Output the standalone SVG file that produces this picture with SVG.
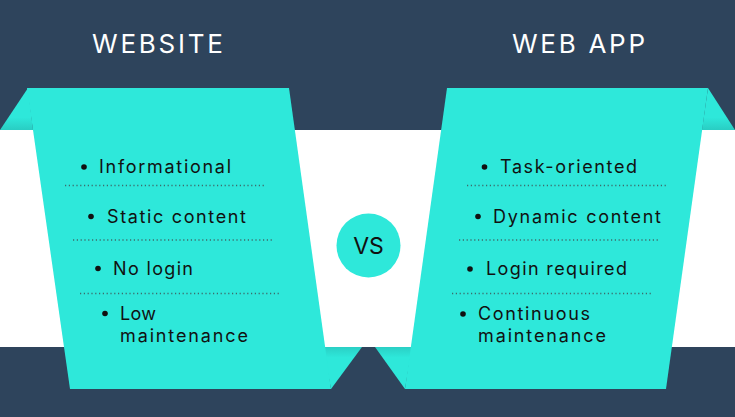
<svg xmlns="http://www.w3.org/2000/svg" width="735" height="417" viewBox="0 0 735 417">
<style>
.bg{fill:#2e445c}
.panel{fill:#2ee8da}
.head{font-family:Inter,"Liberation Sans",sans-serif;font-size:26px;fill:#ffffff;font-weight:400}
.item{font-family:Inter,"Liberation Sans",sans-serif;font-size:18px;fill:#111111}
.dot{fill:#111111}
.rule{stroke:#3d6b6b;stroke-width:1.6;stroke-dasharray:1.2 2.6;fill:none}
.vs{font-family:Inter,"Liberation Sans",sans-serif;font-size:23px;fill:#111111;text-anchor:middle}
</style>
<defs>
<linearGradient id="foldTop" x1="0" y1="0" x2="0" y2="1">
<stop offset="0" stop-color="#2ee8da"/>
<stop offset="0.7" stop-color="#2ee8da"/>
<stop offset="1" stop-color="#29cdc3"/>
</linearGradient>
<linearGradient id="foldBot" x1="0" y1="0" x2="0" y2="1">
<stop offset="0" stop-color="#2acfc5"/>
<stop offset="0.25" stop-color="#2ee8da"/>
<stop offset="1" stop-color="#2ee8da"/>
</linearGradient>
</defs>
<g id="background">
<rect class="bg" x="0" y="0" width="735" height="417"/>
<rect x="0" y="130" width="735" height="217" fill="#ffffff"/>
</g>
<g id="connectors"/>
<g id="website-panel">
<polygon fill="url(#foldTop)" points="0,130 28,88 33,130"/>
<polygon fill="url(#foldBot)" points="323,347 362,347 331,389"/>
<polygon class="panel" points="27,88 289,88 331,389 70,389"/>
<text class="head" x="92" y="53" textLength="131" lengthAdjust="spacing">WEBSITE</text>
<circle class="dot" cx="84" cy="167" r="2.8"/>
<text class="item" x="99" y="173" textLength="132" lengthAdjust="spacing">Informational</text>
<line class="rule" x1="65" y1="185.5" x2="266" y2="185.5"/>
<circle class="dot" cx="91" cy="216.5" r="2.8"/>
<text class="item" x="107" y="222.5" textLength="139" lengthAdjust="spacing">Static content</text>
<line class="rule" x1="73" y1="240" x2="273" y2="240"/>
<circle class="dot" cx="98" cy="268.5" r="2.8"/>
<text class="item" x="113" y="275" textLength="80" lengthAdjust="spacing">No login</text>
<line class="rule" x1="80" y1="293.5" x2="280" y2="293.5"/>
<circle class="dot" cx="105" cy="313.5" r="2.8"/>
<text class="item" x="120" y="320" textLength="36" lengthAdjust="spacing">Low</text>
<text class="item" x="120" y="341.5" textLength="128" lengthAdjust="spacing">maintenance</text>
</g>
<g id="webapp-panel">
<polygon fill="url(#foldTop)" points="735,130 708,88 702,130"/>
<polygon fill="url(#foldBot)" points="412,347 375,347 405,389"/>
<polygon class="panel" points="447,88 708,88 666,389 405,389"/>
<text class="head" x="512" y="53" textLength="133" lengthAdjust="spacing">WEB APP</text>
<circle class="dot" cx="484.5" cy="167" r="2.8"/>
<text class="item" x="500" y="173" textLength="137" lengthAdjust="spacing">Task-oriented</text>
<line class="rule" x1="467" y1="185.5" x2="667" y2="185.5"/>
<circle class="dot" cx="478" cy="216.5" r="2.8"/>
<text class="item" x="493" y="222.5" textLength="168" lengthAdjust="spacing">Dynamic content</text>
<line class="rule" x1="459" y1="240" x2="660" y2="240"/>
<circle class="dot" cx="470" cy="269" r="2.8"/>
<text class="item" x="486" y="275" textLength="141" lengthAdjust="spacing">Login required</text>
<line class="rule" x1="452" y1="293.5" x2="652" y2="293.5"/>
<circle class="dot" cx="463" cy="314" r="2.8"/>
<text class="item" x="478" y="320" textLength="112" lengthAdjust="spacing">Continuous</text>
<text class="item" x="478" y="341.5" textLength="128" lengthAdjust="spacing">maintenance</text>
</g>
<g id="vs">
<circle class="panel" cx="368.5" cy="245.5" r="32"/>
<text class="vs" x="368.5" y="254">VS</text>
</g>
</svg>
